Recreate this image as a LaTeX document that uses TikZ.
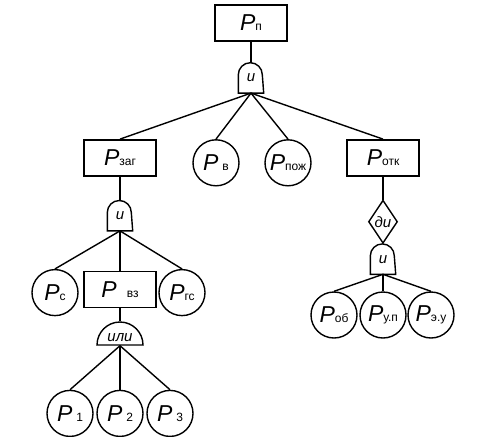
\documentclass[tikz,border=0pt]{standalone}
\usepackage{fontspec}
\setmainfont{Liberation Sans}
\usetikzlibrary{shapes.geometric,positioning}
\newcommand{\psub}[1]{{\fontsize{6}{7}\selectfont #1}}
\tikzset{
	prbox/.style={rectangle, draw, minimum width=36pt, minimum height=18pt,
		inner sep=0pt, font=\fontsize{11.5}{13}\selectfont},
	prcirc/.style={circle, draw, minimum size=23pt, inner sep=0pt,
		font=\fontsize{11.5}{13}\selectfont},
	andgate/.style={rectangle, minimum width=12pt, minimum height=14.5pt,
		inner sep=0pt, font=\fontsize{7.5}{8}\selectfont\itshape,
		append after command={\pgfextra{\draw (\tikzlastnode.south west)
			-- ([yshift=-6pt]\tikzlastnode.north west)
			arc[start angle=180, end angle=0, radius=6pt]
			-- (\tikzlastnode.south east) -- cycle;}}},
	orgate/.style={semicircle, draw, minimum width=23pt, inner sep=0pt,
		font=\fontsize{7.5}{8}\selectfont\itshape},
	dyngate/.style={diamond, draw, minimum width=14.5pt, minimum height=21.5pt,
		inner sep=0pt, font=\fontsize{7.5}{8}\selectfont\itshape}
}
\begin{document}
\begin{tikzpicture}[line width=0.7pt]
	\useasboundingbox (0,0) rectangle (251.5pt,-218pt);
	
	\node[prbox] (root) at (125.5pt,-11.5pt) {\textit{P}\psub{п}};
	\node[andgate, below=10.5pt of root] (g0) {и};
	
	% second level
	\node[prbox, below=23pt of g0, xshift=-65.5pt] (pzag) {\textit{P}\psub{заг}};
	\node[prcirc, below=23pt of g0, xshift=-17.5pt] (pv) {\textit{P}\,\psub{в}};
	\node[prcirc, below=23pt of g0, xshift=18.5pt] (ppozh) {\textit{P}\psub{пож}};
	\node[prbox, below=23pt of g0, xshift=66pt] (potk) {\textit{P}\psub{отк}};
	
	% left branch
	\node[andgate, below=12pt of pzag] (g1) {и};
	\node[prcirc, below=19pt of g1, xshift=-32.5pt] (pc) {\textit{P}\psub{с}};
	\node[prbox, below=20pt of g1] (pvz) {\textit{P}\hspace{5pt}\psub{вз}};
	\node[prcirc, below=19pt of g1, xshift=31pt] (pgs) {\textit{P}\psub{гс}};
	\node[orgate, below=6.5pt of pvz] (g2) {или};
	\node[prcirc, below=22pt of g2, xshift=-25pt] (p1) {\textit{P}\,\psub{1}};
	\node[prcirc, below=22pt of g2] (p2) {\textit{P}\,\psub{2}};
	\node[prcirc, below=22pt of g2, xshift=25pt] (p3) {\textit{P}\,\psub{3}};
	
	% right branch
	\node[dyngate, below=11.5pt of potk] (dd) {ди};
	\node[andgate, below=0pt of dd] (g3) {и};
	\node[prcirc, below=8.5pt of g3, xshift=-24.5pt] (pob) {\textit{P}\psub{об}};
	\node[prcirc, below=8.5pt of g3] (pup) {\textit{P}\psub{у.п}};
	\node[prcirc, below=8.5pt of g3, xshift=24pt] (peu) {\textit{P}\psub{э.у}};
	
	% connectors
	\draw (root) -- (g0);
	\foreach \n in {pzag,pv,ppozh,potk}
		\draw (g0.south) -- (\n.north);
	\draw (pzag) -- (g1);
	\foreach \n in {pc,pvz,pgs}
		\draw (g1.south) -- (\n.north);
	\draw (pvz) -- (g2);
	\foreach \n in {p1,p2,p3}
		\draw (g2.south) -- (\n.north);
	\draw (potk) -- (dd);
	\draw (dd) -- (g3);
	\foreach \n in {pob,pup,peu}
		\draw (g3.south) -- (\n.north);
\end{tikzpicture}
\end{document}
